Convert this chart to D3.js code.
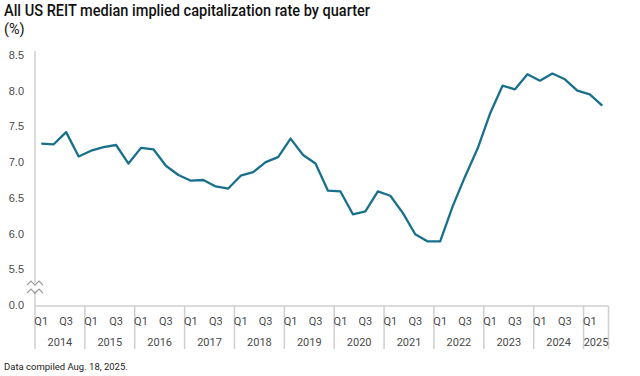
<!DOCTYPE html>
<html>
<head>
<meta charset="utf-8">
<script src="https://cdn.jsdelivr.net/npm/d3@7"></script>
<style>
    body { margin: 0; background: #fff; }
    svg { display: block; font-family: Roboto, "Noto Sans", sans-serif; }
</style>
</head>
<body>
<script>
const w = 640;
const h = 376;

// chart data
const years = ["2014", "2015", "2016", "2017", "2018", "2019", "2020", "2021", "2022", "2023", "2024", "2025"];
const quartersPerYear = [4, 4, 4, 4, 4, 4, 4, 4, 4, 4, 4, 2];
const capRates = [
    7.26, 7.25, 7.42, 7.08,   // 2014
    7.16, 7.21, 7.24, 6.98,   // 2015
    7.20, 7.18, 6.95, 6.82,   // 2016
    6.74, 6.75, 6.66, 6.63,   // 2017
    6.81, 6.86, 7.00, 7.07,   // 2018
    7.33, 7.10, 6.98, 6.60,   // 2019
    6.59, 6.27, 6.31, 6.59,   // 2020
    6.53, 6.29, 5.99, 5.89,   // 2021
    5.89, 6.38, 6.80, 7.19,   // 2022
    7.68, 8.07, 8.02, 8.23,   // 2023
    8.14, 8.24, 8.16, 8.00,   // 2024
    7.95, 7.79                // 2025
];
const yTicks = [5.0, 5.5, 6.0, 6.5, 7.0, 7.5, 8.0, 8.5];
const yTickLabels = ["0.0", "5.5", "6.0", "6.5", "7.0", "7.5", "8.0", "8.5"];
const quarterLabels = ["Q1", "Q2", "Q3", "Q4"];
const shownQuarters = ["Q1", "Q3"];

const title = "All US REIT median implied capitalization rate by quarter";
const unitLabel = "(%)";
const footnote = "Data compiled Aug. 18, 2025.";

const lineColor = "#18708c";
const axisColor = "#cfcfcf";
const textColor = "#4a4a4a";

// build quarter keys
const quarters = [];
years.forEach((y, i) => {
    for (let q = 0; q < quartersPerYear[i]; q++) {
        quarters.push({ year: y, q: quarterLabels[q], key: y + quarterLabels[q] });
    }
});
const points = quarters.map((d, i) => ({ key: d.key, value: capRates[i] }));

const plotLeft = 35;
const plotRight = 608.5;
const plotTop = 55;
const plotBottom = 305;

const svg = d3.select("body")
    .append("svg")
    .attr("width", w)
    .attr("height", h);

svg.append("text")
    .attr("x", 4)
    .attr("y", 16)
    .attr("font-size", "16px")
    .attr("font-weight", 500)
    .attr("fill", "#111")
    .attr("textLength", 366)
    .attr("lengthAdjust", "spacingAndGlyphs")
    .text(title);

svg.append("text")
    .attr("x", 4)
    .attr("y", 34)
    .attr("font-size", "14.5px")
    .attr("fill", "#111")
    .text(unitLabel);

const xScale = d3.scaleBand()
    .domain(quarters.map(d => d.key))
    .range([plotLeft, plotRight]);

const yScale = d3.scaleLinear()
    .domain([5.0, 8.5])
    .range([plotBottom, plotTop]);

// y axis
const yAxis = d3.axisLeft(yScale)
    .tickValues(yTicks)
    .tickSize(0)
    .tickPadding(11)
    .tickFormat((d, i) => yTickLabels[i]);

const gy = svg.append("g")
    .attr("transform", "translate(" + plotLeft + ", 0)")
    .call(yAxis);
gy.select(".domain")
    .attr("stroke", axisColor)
    .attr("stroke-width", 1.5)
    .attr("d", "M0," + (plotTop - 4) + "V" + (plotBottom + 1));
gy.selectAll("text")
    .attr("fill", textColor)
    .attr("font-size", "11px");

// x axis baseline + year separators
const xg = svg.append("g");
xg.append("line")
    .attr("x1", plotLeft).attr("x2", plotRight)
    .attr("y1", plotBottom + 1).attr("y2", plotBottom + 1)
    .attr("stroke", axisColor)
    .attr("stroke-width", 1.5);

const yearStarts = years.map(y => xScale(y + "Q1"));
const yearEnds = years.map((y, i) => xScale(y + quarterLabels[quartersPerYear[i] - 1]) + xScale.bandwidth());

xg.selectAll(".sep")
    .data(yearStarts.concat([yearEnds[yearEnds.length - 1]]))
    .enter()
    .append("line")
    .attr("class", "sep")
    .attr("x1", d => d).attr("x2", d => d)
    .attr("y1", plotBottom + 1).attr("y2", 349)
    .attr("stroke", axisColor)
    .attr("stroke-width", 1.5);

xg.selectAll(".qlabel")
    .data(quarters.filter(d => shownQuarters.includes(d.q)))
    .enter()
    .append("text")
    .attr("class", "qlabel")
    .attr("x", d => xScale(d.key) + xScale.bandwidth() / 2)
    .attr("y", 325)
    .attr("text-anchor", "middle")
    .attr("font-size", "11px")
    .attr("fill", textColor)
    .text(d => d.q);

xg.selectAll(".ylabel")
    .data(years)
    .enter()
    .append("text")
    .attr("class", "ylabel")
    .attr("x", (d, i) => (yearStarts[i] + yearEnds[i]) / 2)
    .attr("y", 346)
    .attr("text-anchor", "middle")
    .attr("font-size", "11px")
    .attr("fill", textColor)
    .text(d => d);

// axis break marker
const breakY = yScale(5.25);
svg.append("rect")
    .attr("x", plotLeft - 3)
    .attr("y", breakY - 4)
    .attr("width", 6)
    .attr("height", 8)
    .attr("fill", "#fff");
[-4, 4].forEach(off => {
    svg.append("path")
        .attr("d", `M${plotLeft - 8},${breakY + off + 2} l4,-4 l4,4 l4,-4 l4,4`)
        .attr("fill", "none")
        .attr("stroke", "#999")
        .attr("stroke-width", 1.2);
});

// the line
const line = d3.line()
    .x(d => xScale(d.key) + xScale.bandwidth() / 2)
    .y(d => yScale(d.value));

svg.append("path")
    .datum(points)
    .attr("d", line)
    .attr("fill", "none")
    .attr("stroke", lineColor)
    .attr("stroke-width", 2.3)
    .attr("stroke-linejoin", "round");

svg.append("text")
    .attr("x", 4)
    .attr("y", 370)
    .attr("font-size", "9.5px")
    .attr("fill", "#222")
    .text(footnote);
</script>
</body>
</html>
